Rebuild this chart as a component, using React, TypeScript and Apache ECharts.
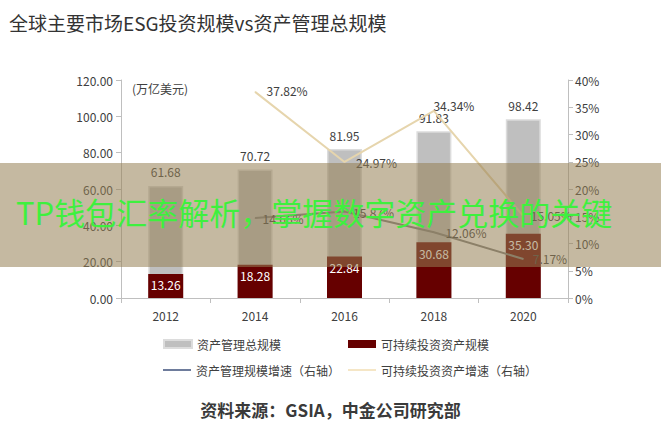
import React, { useEffect, useRef } from "react";
import * as echarts from "echarts";

const years = ["2012", "2014", "2016", "2018", "2020"];
const totalAUM = [61.68, 70.72, 81.95, 91.83, 98.42];
const sustainableAUM = [13.26, 18.28, 22.84, 30.68, 35.3];
const totalGrowth: (number | null)[] = [null, 14.66, 15.87, 12.06, 7.17];
const sustainableGrowth: (number | null)[] = [null, 37.82, 24.97, 34.34, 15.05];

const FONT = "'Noto Sans CJK SC', 'Noto Sans', sans-serif";
const TXT = "#404040";

export default function App() {
  const ref = useRef<HTMLDivElement>(null);
  useEffect(() => {
    if (!ref.current) return;
    const chart = echarts.init(ref.current, undefined, { renderer: "svg" });

    const totalGrowthLabelOffsets: [string, number[]][] = [
      ["right", [0, 0]],
      ["right", [2, 0]],
      ["right", [3, 1]],
      ["right", [6, 0]],
      ["right", [4, 0]],
    ];
    const susGrowthLabelOffsets: [string, number[]][] = [
      ["right", [0, 0]],
      ["right", [6, -1]],
      ["right", [6, 1]],
      ["top", [20, 6]],
      ["right", [2, 0]],
    ];

    const legendBase = {
      orient: "horizontal",
      itemWidth: 28,
      textStyle: { color: TXT, fontSize: 12, fontFamily: FONT },
    };

    chart.setOption({
      animation: false,
      textStyle: { fontFamily: FONT },
      title: {
        text: "全球主要市场ESG投资规模vs资产管理总规模",
        left: 4,
        top: 8,
        textStyle: { fontSize: 19, fontWeight: "normal", color: "#333", fontFamily: FONT },
      },
      grid: { left: 121, right: 93, top: 80, bottom: 132, containLabel: false },
      legend: [
        { ...legendBase, left: 158, top: 333, itemHeight: 8, data: [{ name: "资产管理总规模", icon: "rect" }] },
        { ...legendBase, left: 343, top: 333, itemHeight: 8, data: [{ name: "可持续投资资产规模", icon: "rect" }] },
        {
          ...legendBase,
          left: 158,
          top: 359,
          itemHeight: 2,
          data: [{ name: "资产管理规模增速（右轴）", icon: "rect", itemStyle: { color: "#6e7c9c" } }],
        },
        {
          ...legendBase,
          left: 343,
          top: 359,
          itemHeight: 2,
          data: [{ name: "可持续投资资产增速（右轴）", icon: "rect", itemStyle: { color: "#f5e6c6" } }],
        },
      ],
      xAxis: {
        type: "category",
        data: years,
        axisLine: { lineStyle: { color: "#bfbfbf", width: 1 } },
        axisTick: { show: true, alignWithLabel: false, length: 5, lineStyle: { color: "#bfbfbf" } },
        axisLabel: { color: TXT, fontSize: 12, margin: 11, fontFamily: FONT },
      },
      yAxis: [
        {
          type: "value",
          min: 0,
          max: 120,
          interval: 20,
          axisLine: { show: true, lineStyle: { color: "#bfbfbf" } },
          axisTick: { show: true, length: 5, lineStyle: { color: "#bfbfbf" } },
          splitLine: { show: false },
          axisLabel: { color: TXT, fontSize: 12, margin: 8, formatter: (v: number) => v.toFixed(2), fontFamily: FONT },
        },
        {
          type: "value",
          min: 0,
          max: 40,
          interval: 5,
          axisLine: { show: true, lineStyle: { color: "#bfbfbf" } },
          axisTick: { show: true, length: 5, lineStyle: { color: "#bfbfbf" } },
          splitLine: { show: false },
          axisLabel: { color: TXT, fontSize: 12, margin: 7, formatter: (v: number) => v + "%", fontFamily: FONT },
        },
      ],
      series: [
        {
          name: "资产管理总规模",
          type: "bar",
          data: totalAUM,
          barWidth: 35,
          barGap: "-100%",
          itemStyle: { color: "#bfbfbf", borderColor: "#dcdcdc", borderWidth: 1.5 },
          label: { show: true, position: "top", distance: 8, color: TXT, fontSize: 12, formatter: (p: any) => p.value.toFixed(2) },
          z: 2,
        },
        {
          name: "可持续投资资产规模",
          type: "bar",
          data: sustainableAUM,
          barWidth: 35,
          barGap: "-100%",
          itemStyle: { color: "#660000" },
          label: { show: true, position: "insideTop", distance: 5, color: "#fff", fontSize: 12, formatter: (p: any) => p.value.toFixed(2) },
          z: 3,
        },
        {
          name: "资产管理规模增速（右轴）",
          type: "line",
          yAxisIndex: 1,
          symbol: "circle",
          symbolSize: 1,
          showSymbol: true,
          lineStyle: { color: "#808080", width: 2 },
          itemStyle: { color: "#808080" },
          z: 4,
          data: totalGrowth.map((v, i) => ({
            value: v,
            label: {
              show: v !== null,
              position: totalGrowthLabelOffsets[i][0],
              offset: totalGrowthLabelOffsets[i][1],
              color: TXT,
              fontSize: 12,
              formatter: (p: any) => Number(p.value).toFixed(2) + "%",
            },
          })),
        },
        {
          name: "可持续投资资产增速（右轴）",
          type: "line",
          yAxisIndex: 1,
          symbol: "circle",
          symbolSize: 1,
          showSymbol: true,
          lineStyle: { color: "#e6d5ad", width: 2 },
          itemStyle: { color: "#e6d5ad" },
          z: 4,
          data: sustainableGrowth.map((v, i) => ({
            value: v,
            label: {
              show: v !== null,
              position: susGrowthLabelOffsets[i][0],
              offset: susGrowthLabelOffsets[i][1],
              color: TXT,
              fontSize: 12,
              formatter: (p: any) => Number(p.value).toFixed(2) + "%",
            },
          })),
        },
      ],
      graphic: [
        {
          type: "text",
          left: 132,
          top: 82,
          style: { text: "(万亿美元)", fill: TXT, fontSize: 12, fontFamily: FONT },
        },
        {
          type: "text",
          left: "center",
          top: 401,
          style: { text: "资料来源：GSIA，中金公司研究部", fill: "#3a3a3a", fontSize: 17, fontWeight: "bold", fontFamily: FONT },
        },
        {
          type: "rect",
          left: 0,
          top: 163,
          z: 100,
          shape: { width: 661, height: 104 },
          style: { fill: "rgba(149,127,83,0.55)" },
        },
        {
          type: "text",
          left: 16,
          top: 196,
          z: 101,
          style: { text: "TP钱包汇率解析，掌握数字资产兑换的关键", fill: "#3ef03e", fontSize: 31, fontFamily: FONT },
        },
      ],
    });
    return () => chart.dispose();
  }, []);
  return <div ref={ref} style={{ position: "fixed", left: 0, top: 0, width: 661, height: 430, background: "#fff" }} />;
}
